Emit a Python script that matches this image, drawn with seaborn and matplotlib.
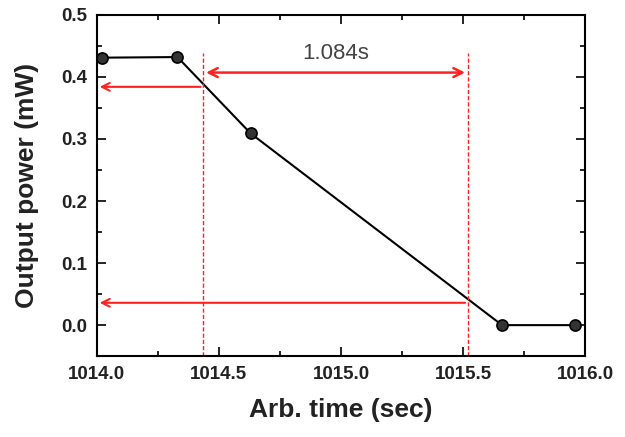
import matplotlib
matplotlib.use("Agg")
import matplotlib.pyplot as plt
from matplotlib.ticker import MultipleLocator
import seaborn as sns
import pandas as pd

time_s = [1014.02, 1014.33, 1014.63, 1015.66, 1015.96]
power_mw = [0.431, 0.432, 0.309, 0.0, 0.0]
t_start = 1014.436
t_end = 1015.52
p_upper = 0.384
p_lower = 0.036
span_label = "1.084s"

sns.set_theme(style="ticks")
plt.rcParams['font.family'] = ['Liberation Sans', 'DejaVu Sans']

fig = plt.figure(figsize=(6.25, 4.37), dpi=100)
ax = fig.add_axes([0.155, 0.185, 0.781, 0.781])

df = pd.DataFrame({"t": time_s, "p": power_mw})
sns.lineplot(data=df, x="t", y="p", ax=ax, color="black", lw=1.5,
             marker="o", markersize=8, markerfacecolor="#333333",
             markeredgecolor="black", markeredgewidth=1.2)

red = "#ff2020"
for t in (t_start, t_end):
    ax.plot([t, t], [-0.05, 0.438], color=red, lw=1.0, ls=(0, (3, 1.5)))

arrow = dict(arrowstyle="->", color=red, lw=1.5, mutation_scale=14)
ax.annotate("", xy=(1014.0, p_upper), xytext=(t_start, p_upper), arrowprops=arrow)
ax.annotate("", xy=(1014.0, p_lower), xytext=(t_end, p_lower), arrowprops=arrow)
ax.annotate("", xy=(t_start, 0.407), xytext=(t_end, 0.407),
            arrowprops=dict(arrowstyle="<->", color=red, lw=1.8, mutation_scale=16))
ax.text((t_start + t_end) / 2, 0.437, span_label, ha="center", va="center",
        fontsize=16, color="#444444")

ax.set_xlim(1014.0, 1016.0)
ax.set_ylim(-0.05, 0.5)
ax.xaxis.set_minor_locator(MultipleLocator(0.25))
ax.yaxis.set_minor_locator(MultipleLocator(0.05))
ax.set_xticks([1014.0, 1014.5, 1015.0, 1015.5, 1016.0])
ax.set_xticklabels(["1014.0", "1014.5", "1015.0", "1015.5", "1016.0"])
ax.set_yticks([0.0, 0.1, 0.2, 0.3, 0.4, 0.5])
ax.set_yticklabels(["0.0", "0.1", "0.2", "0.3", "0.4", "0.5"])
ax.tick_params(which="both", direction="in", top=True, right=True, width=1.2, color="black")
ax.tick_params(which="major", length=6.5, labelsize=13.5, pad=7)
ax.tick_params(which="minor", length=3.5)
for lab in ax.get_xticklabels() + ax.get_yticklabels():
    lab.set_fontweight("bold")
    lab.set_color("#222222")
for s in ax.spines.values():
    s.set_linewidth(1.5)
    s.set_color("black")

ax.set_xlabel("Arb. time (sec)", fontsize=19, fontweight="bold", color="#222222")
ax.set_ylabel("Output power (mW)", fontsize=19, fontweight="bold", color="#222222")
ax.xaxis.set_label_coords(0.5, -0.123)
ax.yaxis.set_label_coords(-0.118, 0.5)

fig.savefig("out.png", dpi=100)
